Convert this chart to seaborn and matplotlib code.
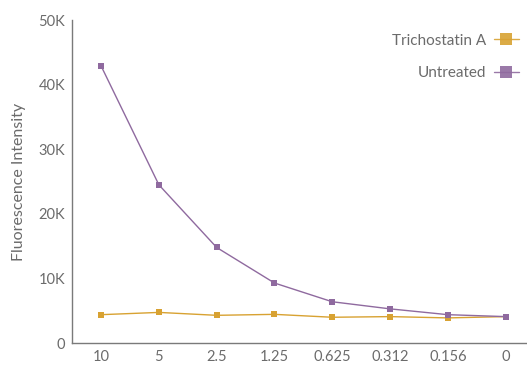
import numpy as np
import pandas as pd
import matplotlib
matplotlib.use("Agg")
import matplotlib.pyplot as plt
import seaborn as sns
from matplotlib.ticker import FuncFormatter, FixedLocator
from matplotlib.legend_handler import HandlerLine2D

# values
concentrations = ["10", "5", "2.5", "1.25", "0.625", "0.312", "0.156", "0"]
trichostatin = [4400, 4750, 4300, 4450, 4000, 4100, 3900, 4100]
untreated = [42900, 24500, 14800, 9300, 6400, 5300, 4400, 4100]
series_names = ["Trichostatin A", "Untreated"]
colors = ["#D8A232", "#8F6A9F"]

df = pd.DataFrame({
    "conc": concentrations * 2,
    "value": trichostatin + untreated,
    "group": [series_names[0]] * len(concentrations) + [series_names[1]] * len(concentrations),
})


class EndMarkerHandler(HandlerLine2D):
    # legend key with the marker sitting at the right end of the line
    def get_xdata(self, legend, xdescent, ydescent, width, height, fontsize):
        xdata = np.array([-xdescent, -xdescent + width])
        return xdata, np.array([-xdescent + width])


sns.set_style("white")
plt.rcParams['font.family'] = ['Lato', 'DejaVu Sans']
text_grey = "#6b6b6b"
axis_grey = "#7a7a7a"

fig = plt.figure(figsize=(5.27, 3.65), dpi=100)
ax = fig.add_axes([0.137, 0.060, 0.863, 0.885])

sns.lineplot(data=df, x="conc", y="value", hue="group", palette=colors,
             marker="s", markersize=5, markeredgewidth=0, linewidth=1,
             dashes=False, sort=False, ax=ax)

ax.set_xlim(-0.5, 7.37)
ax.set_ylim(0, 50000)
ax.set_yticks(np.arange(0, 50001, 10000))
ax.yaxis.set_major_formatter(FuncFormatter(lambda v, p: "0" if v == 0 else f"{int(v/1000)}K"))

ax.xaxis.set_minor_locator(FixedLocator(np.arange(0.5, 7, 1)))
ax.tick_params(axis="x", which="major", length=0, pad=5, labelsize=10.5, labelcolor=text_grey)
ax.tick_params(axis="x", which="minor", direction="in", length=7, width=1, color=axis_grey)
ax.tick_params(axis="y", which="major", direction="in", length=11, width=1, color=axis_grey,
               pad=5, labelsize=10.5, labelcolor=text_grey)

ax.set_xlabel("")
ax.set_ylabel("Fluorescence Intensity", fontsize=11.5, color=text_grey, labelpad=9)

sns.despine(ax=ax)
for s in ["left", "bottom"]:
    ax.spines[s].set_color(axis_grey)
    ax.spines[s].set_linewidth(1)

handles, labels = ax.get_legend_handles_labels()
for h in handles:
    h.set_markersize(9)
    h.set_alpha(0.9)
leg = ax.legend(handles, labels, loc="upper right", bbox_to_anchor=(1.012, 1.0),
                frameon=False, markerfirst=False, fontsize=11, handlelength=1.6,
                labelspacing=1.2, handletextpad=0.5,
                handler_map={h: EndMarkerHandler() for h in handles})
for t in leg.get_texts():
    t.set_color(text_grey)

fig.savefig("out.png", dpi=100)
